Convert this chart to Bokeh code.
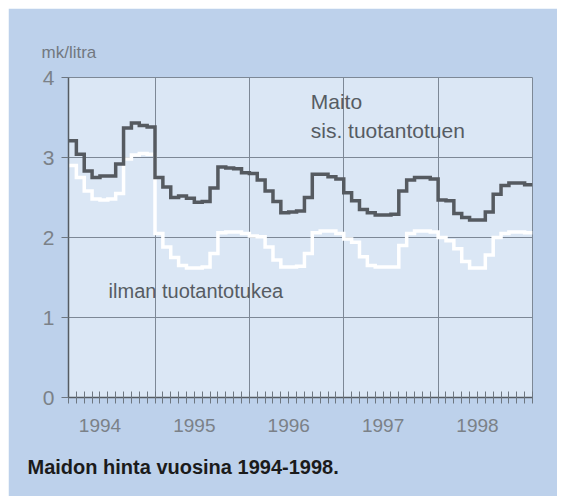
from bokeh.plotting import figure
from bokeh.layouts import column, row
from bokeh.models import FixedTicker, Label, Range1d, Title, Spacer
from bokeh.embed import file_html
from bokeh.resources import INLINE

# month index: 1 = Feb 1994 ... 59 = Dec 1998 ; 60 = end of Dec 1998
months = list(range(1, 60))
x_end = 60

with_support = [3.21, 3.04, 2.83, 2.75, 2.77, 2.77, 2.92, 3.37, 3.43, 3.40, 3.38,
                2.75, 2.63, 2.50, 2.52, 2.49, 2.44, 2.45, 2.62, 2.88, 2.87, 2.86, 2.81,
                2.80, 2.72, 2.58, 2.45, 2.31, 2.32, 2.33, 2.50, 2.79, 2.79, 2.76, 2.73,
                2.56, 2.46, 2.35, 2.31, 2.28, 2.28, 2.29, 2.58, 2.72, 2.75, 2.75, 2.73,
                2.47, 2.46, 2.30, 2.25, 2.22, 2.22, 2.32, 2.54, 2.65, 2.68, 2.68, 2.66]

without_support = [2.90, 2.75, 2.58, 2.48, 2.47, 2.48, 2.55, 2.98, 3.03, 3.05, 3.04,
                   2.05, 1.88, 1.75, 1.65, 1.62, 1.62, 1.63, 1.80, 2.06, 2.07, 2.07, 2.05,
                   2.02, 2.01, 1.88, 1.72, 1.63, 1.63, 1.64, 1.80, 2.06, 2.08, 2.08, 2.05,
                   1.98, 1.94, 1.76, 1.65, 1.63, 1.63, 1.63, 1.90, 2.05, 2.08, 2.08, 2.07,
                   2.00, 1.96, 1.86, 1.70, 1.62, 1.62, 1.78, 2.00, 2.05, 2.07, 2.07, 2.06]

year_labels = ["1994", "1995", "1996", "1997", "1998"]
year_label_pos = [5, 17, 29, 41, 53]
year_starts = [12, 24, 36, 48]
y_ticks = [0, 1, 2, 3, 4]

FONT = "Liberation Sans"
OUTER = "#bdd1eb"
INNER = "#dbe7f5"
GREY_TXT = "#7b8188"

p = figure(width=549, height=488, output_backend="svg", toolbar_location=None,
           x_range=Range1d(1, x_end), y_range=Range1d(0, 4),
           min_border_left=60, min_border_right=25, min_border_top=69,
           min_border_bottom=99)
p.border_fill_color = OUTER
p.background_fill_color = INNER
p.outline_line_color = "#7d8896"
p.outline_line_width = 1

# grid
p.xgrid.ticker = FixedTicker(ticks=year_starts)
p.ygrid.ticker = FixedTicker(ticks=[1, 2, 3])
p.xgrid.grid_line_color = "#7d8896"
p.ygrid.grid_line_color = "#7d8896"
p.xgrid.grid_line_width = 1
p.ygrid.grid_line_width = 1

# x axis
xa = p.xaxis[0]
xa.ticker = FixedTicker(ticks=year_label_pos, minor_ticks=list(range(1, x_end + 1)))
xa.major_label_overrides = {pos: lab for pos, lab in zip(year_label_pos, year_labels)}
xa.major_tick_line_color = None
xa.major_tick_out = 0
xa.major_tick_in = 0
xa.minor_tick_in = 6
xa.minor_tick_out = 6
xa.minor_tick_line_color = "#6d7680"
xa.axis_line_color = "#555b62"
xa.axis_line_width = 1.5
xa.major_label_standoff = 15
xa.major_label_text_font = FONT
xa.major_label_text_font_size = "19px"
xa.major_label_text_color = GREY_TXT

# y axis
ya = p.yaxis[0]
ya.ticker = FixedTicker(ticks=y_ticks)
ya.major_tick_out = 7
ya.major_tick_in = 0
ya.major_tick_line_color = "#6d7680"
ya.minor_tick_line_color = None
ya.axis_line_color = "#555b62"
ya.axis_line_width = 1.5
ya.major_label_standoff = 7
ya.major_label_text_font = FONT
ya.major_label_text_font_size = "21px"
ya.major_label_text_color = GREY_TXT

# series (step lines)
xs = months + [x_end]
p.step(xs, without_support + [without_support[-1]], mode="after",
       line_color="#ffffff", line_width=3.5, line_join="miter")
p.step(xs, with_support + [with_support[-1]], mode="after",
       line_color="#555a60", line_width=3.5, line_join="miter")

# in-plot texts
def add_label(x, y, text, size, color):
    p.add_layout(Label(x=x, y=y, text=text, text_font=FONT,
                       text_font_size=size, text_color=color,
                       text_baseline="middle", text_align="left"))

add_label(31.8, 3.70, "Maito", "21px", "#565c63")
add_label(31.8, 3.34, "sis. tuotantotuen", "21px", "#565c63")
add_label(6.1, 1.33, "ilman tuotantotukea", "20px", "#565c63")

# unit label above the frame
unit = Title(text="mk/litra", align="left", offset=-27, standoff=31,
             text_font=FONT, text_font_size="17px", text_color="#727880",
             text_font_style="normal")
p.add_layout(unit, "above")

# caption below the chart
cap = Title(text="Maidon hinta vuosina 1994-1998.", align="left", offset=-41,
            standoff=38, text_font=FONT, text_font_size="20px",
            text_color="#1b1b1b", text_font_style="bold")
p.add_layout(cap, "below")

layout = column(Spacer(height=8), row(Spacer(width=8), p))
open("out.html", "w").write(file_html(layout, INLINE))
